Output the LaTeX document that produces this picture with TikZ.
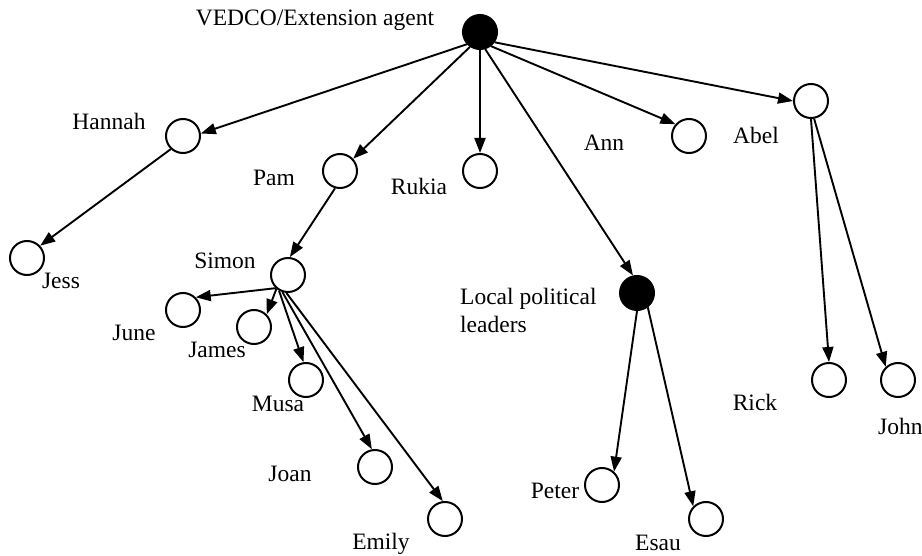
\documentclass[tikz,border=0pt]{standalone}
\usepackage{fontspec}
\setmainfont{Liberation Serif}
\usetikzlibrary{arrows.meta}
\begin{document}
\begin{tikzpicture}[x=1pt, y=-1pt,
    person/.style={circle, draw, line width=2pt, inner sep=0pt, minimum size=34pt},
    leader/.style={person, fill=black},
    who/.style={anchor=base, inner sep=0pt, font=\fontsize{23.5}{28}\selectfont},
    link/.style={-{Triangle[length=15pt, width=11pt]}, line width=1.9pt}]
    \useasboundingbox (0,0) rectangle (922,556);

    % people
    \node[leader] (vedco)  at (480,32)  {};
    \node[person] (hannah) at (183,136) {};
    \node[person] (pam)    at (340,171) {};
    \node[person] (rukia)  at (480,171) {};
    \node[person] (ann)    at (689,136) {};
    \node[person] (abel)   at (811,101) {};
    \node[person] (jess)   at (27,258)  {};
    \node[person] (simon)  at (288,275) {};
    \node[person] (june)   at (183,310) {};
    \node[person] (james)  at (254,327) {};
    \node[person] (musa)   at (306,380) {};
    \node[person] (joan)   at (375,467) {};
    \node[person] (emily)  at (445,519) {};
    \node[leader] (local)  at (637,293) {};
    \node[person] (peter)  at (602,485) {};
    \node[person] (esau)   at (706,519) {};
    \node[person] (rick)   at (829,380) {};
    \node[person] (john)   at (898,380) {};

    % names
    \node[who] (tvedco)  at (315,26)  {VEDCO/Extension agent};
    \node[who] (thannah) at (109,130) {Hannah};
    \node[who] (tpam)    at (274,186) {Pam};
    \node[who] (trukia)  at (419,195) {Rukia};
    \node[who] (tann)    at (604,151) {Ann};
    \node[who] (tabel)   at (756,144) {Abel};
    \node[who] (tjess)   at (61,289)  {Jess};
    \node[who] (tsimon)  at (225,269) {Simon};
    \node[who] (tjune)   at (134,341) {June};
    \node[who] (tjames)  at (217,358) {James};
    \node[who] (tmusa)   at (278,411) {Musa};
    \node[who] (tjoan)   at (290,481) {Joan};
    \node[who] (temily)  at (381,549) {Emily};
    \node[who, anchor=base west, align=left] (tlocal) at (460,333) {Local political\\leaders};
    \node[who] (tpeter)  at (555,498) {Peter};
    \node[who] (tesau)   at (658,550) {Esau};
    \node[who] (trick)   at (755,410) {Rick};
    \node[who, anchor=base west] (tjohn) at (878,435) {John};

    % links
    \draw[link] (vedco.223) -- (hannah.8);
    \draw[link] (vedco.236) -- (pam.43);
    \draw[link] (vedco.south) -- (rukia.north);
    \draw[link] (vedco.287) -- (local.103);
    \draw[link] (vedco.308) -- (ann.139);
    \draw[link] (vedco.325) -- (abel.west);
    \draw[link] (hannah.227) -- (jess.43);
    \draw[link] (pam.254) -- (simon.84);
    \draw[link] (simon.227) -- (june.45);
    \draw[link] (simon.230) -- (james.45);
    \draw[link] (simon.240) -- (musa.98);
    \draw[link] (simon.252) -- (joan.100);
    \draw[link] (simon.265) -- (emily.97);
    \draw[link] (local.south) -- (peter.48);
    \draw[link] (local.307) -- (esau.135);
    \draw[link] (abel.south) -- (rick.north);
    \draw[link] (abel.280) -- (john.133);
\end{tikzpicture}
\end{document}
